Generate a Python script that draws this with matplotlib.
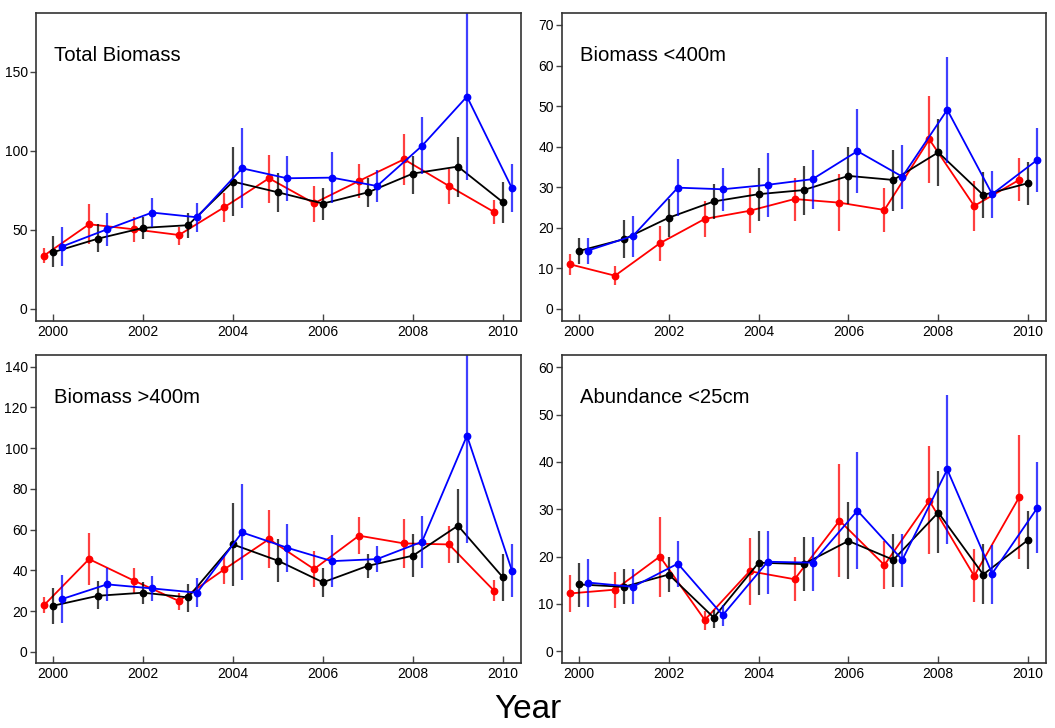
import numpy as np
import matplotlib
matplotlib.use("Agg")
import matplotlib.pyplot as plt

plt.rcParams['font.family'] = ['Liberation Sans', 'DejaVu Sans']

years = np.arange(2000, 2011)

# Total Biomass
tot_black = [35.9, 44.5, 51.3, 53.0, 80.6, 73.8, 66.7, 73.8, 85.7, 90.1, 67.5]
tot_black_lo = [26.8, 36.3, 44.1, 44.7, 59.0, 61.6, 56.3, 64.3, 72.6, 71.0, 54.6]
tot_black_hi = [46.2, 53.8, 58.4, 61.0, 102.3, 85.9, 76.8, 83.1, 96.8, 109.0, 80.2]
tot_red = [33.8, 53.6, 50.4, 46.8, 64.3, 82.7, 66.9, 81.0, 94.7, 77.8, 61.4]
tot_red_lo = [28.9, 41.1, 42.6, 40.5, 55.3, 67.3, 55.3, 70.0, 78.5, 66.5, 53.6]
tot_red_hi = [38.4, 66.2, 58.4, 52.1, 73.2, 97.5, 78.1, 91.8, 110.8, 88.4, 69.0]
tot_blue = [39.5, 50.4, 61.0, 58.0, 89.0, 82.7, 83.1, 77.8, 103.2, 134.4, 76.4]
tot_blue_lo = [27.4, 39.9, 51.7, 48.9, 63.7, 68.4, 66.9, 67.5, 85.4, 81.6, 61.2]
tot_blue_hi = [52.1, 61.0, 70.0, 67.3, 114.3, 96.8, 99.6, 88.0, 121.3, 195.0, 91.8]

# Biomass <400m
shal_black = [14.3, 17.2, 22.5, 26.5, 28.3, 29.3, 32.8, 31.8, 38.6, 28.1, 31.0]
shal_black_lo = [11.0, 12.5, 17.8, 22.2, 21.8, 23.2, 25.8, 24.2, 30.3, 22.3, 25.6]
shal_black_hi = [17.6, 21.9, 27.0, 30.7, 34.7, 35.3, 40.0, 39.2, 46.8, 33.7, 36.3]
shal_red = [11.0, 8.2, 16.2, 22.2, 24.2, 27.1, 26.2, 24.4, 41.8, 25.4, 31.8]
shal_red_lo = [8.4, 5.9, 11.8, 17.8, 18.7, 21.8, 19.1, 18.9, 31.1, 19.1, 26.5]
shal_red_hi = [13.6, 10.7, 20.5, 26.6, 29.7, 32.2, 33.3, 29.9, 52.5, 31.6, 37.1]
shal_blue = [14.4, 18.0, 29.9, 29.5, 30.6, 32.0, 38.9, 32.6, 49.1, 28.3, 36.7]
shal_blue_lo = [11.0, 12.7, 22.8, 24.2, 22.6, 24.6, 28.7, 24.6, 36.1, 22.5, 28.9]
shal_blue_hi = [17.6, 22.9, 36.9, 34.7, 38.4, 39.2, 49.3, 40.4, 62.0, 34.0, 44.5]

# Biomass >400m
deep_black = [22.6, 27.5, 29.0, 26.7, 52.7, 44.7, 34.1, 42.2, 47.2, 61.9, 36.5]
deep_black_lo = [13.4, 20.8, 23.4, 19.6, 32.3, 34.4, 26.7, 36.4, 36.8, 43.7, 24.9]
deep_black_hi = [31.4, 34.9, 34.4, 33.2, 72.9, 55.2, 41.3, 47.8, 57.8, 79.9, 48.0]
deep_red = [22.9, 45.5, 34.9, 24.9, 40.4, 55.3, 40.6, 57.0, 53.2, 52.7, 30.0]
deep_red_lo = [18.8, 32.7, 28.3, 20.5, 33.2, 40.9, 31.9, 47.8, 40.9, 43.7, 24.9]
deep_red_hi = [27.0, 58.1, 41.3, 29.1, 47.5, 69.6, 49.5, 66.0, 65.0, 61.9, 35.2]
deep_blue = [25.9, 33.1, 31.1, 29.0, 58.6, 51.1, 44.5, 45.5, 54.0, 106.1, 39.8]
deep_blue_lo = [13.9, 24.9, 24.9, 21.8, 35.2, 39.0, 31.6, 39.0, 40.9, 53.5, 27.0]
deep_blue_hi = [37.7, 41.3, 37.3, 36.4, 82.4, 62.7, 57.3, 52.1, 66.8, 160.0, 52.9]

# Abundance <25cm
abun_black = [14.1, 13.6, 16.2, 7.1, 18.7, 18.4, 23.3, 19.3, 29.3, 16.2, 23.5]
abun_black_lo = [9.4, 9.9, 12.4, 5.0, 11.8, 12.7, 15.2, 13.6, 20.7, 9.9, 17.3]
abun_black_hi = [18.7, 17.3, 20.0, 8.8, 25.5, 24.2, 31.5, 24.8, 38.1, 22.6, 29.6]
abun_red = [12.2, 13.0, 20.0, 6.6, 16.9, 15.2, 27.6, 18.2, 31.8, 15.9, 32.5]
abun_red_lo = [8.3, 9.2, 11.5, 4.4, 9.7, 10.6, 15.6, 13.1, 20.5, 10.3, 19.4]
abun_red_hi = [16.1, 16.8, 28.3, 8.5, 24.0, 19.8, 39.6, 23.3, 43.4, 21.5, 45.7]
abun_blue = [14.5, 13.6, 18.5, 7.6, 18.9, 18.7, 29.7, 19.3, 38.4, 16.4, 30.2]
abun_blue_lo = [9.4, 9.9, 13.6, 5.3, 12.0, 12.8, 17.3, 13.5, 22.6, 9.9, 20.7]
abun_blue_hi = [19.4, 17.3, 23.3, 9.7, 25.5, 24.2, 42.0, 24.8, 54.2, 22.4, 39.9]

panels = [
    ("Total Biomass", (-7.6, 187.3), [0, 50, 100, 150],
     [(tot_red, tot_red_lo, tot_red_hi, 'red', -0.2),
      (tot_black, tot_black_lo, tot_black_hi, 'black', 0.0),
      (tot_blue, tot_blue_lo, tot_blue_hi, 'blue', 0.2)]),
    ("Biomass <400m", (-2.96, 72.96), [0, 10, 20, 30, 40, 50, 60, 70],
     [(shal_red, shal_red_lo, shal_red_hi, 'red', -0.2),
      (shal_black, shal_black_lo, shal_black_hi, 'black', 0.0),
      (shal_blue, shal_blue_lo, shal_blue_hi, 'blue', 0.2)]),
    ("Biomass >400m", (-5.5, 145.7), [0, 20, 40, 60, 80, 100, 120, 140],
     [(deep_red, deep_red_lo, deep_red_hi, 'red', -0.2),
      (deep_black, deep_black_lo, deep_black_hi, 'black', 0.0),
      (deep_blue, deep_blue_lo, deep_blue_hi, 'blue', 0.2)]),
    ("Abundance <25cm", (-2.5, 62.6), [0, 10, 20, 30, 40, 50, 60],
     [(abun_red, abun_red_lo, abun_red_hi, 'red', -0.2),
      (abun_black, abun_black_lo, abun_black_hi, 'black', 0.0),
      (abun_blue, abun_blue_lo, abun_blue_hi, 'blue', 0.2)]),
]

fig = plt.figure(figsize=(10.55, 7.28), dpi=100)
positions = [
    [0.0341, 0.5591, 0.4597, 0.4231],
    [0.5327, 0.5591, 0.4588, 0.4231],
    [0.0341, 0.0893, 0.4597, 0.4231],
    [0.5327, 0.0893, 0.4588, 0.4231],
]

for pos, (title, ylim, yticks, series) in zip(positions, panels):
    ax = fig.add_axes(pos)
    for vals, lo, hi, col, off in series:
        x = years + off
        vals = np.array(vals)
        ax.vlines(x, lo, hi, color=col, lw=1.6, alpha=0.75)
        ax.plot(x, vals, '-', color=col, lw=1.3)
        ax.plot(x, vals, 'o', color=col, ms=4.6)
    ax.set_xlim(1999.62, 2010.4)
    ax.set_ylim(*ylim)
    ax.set_xticks([2000, 2002, 2004, 2006, 2008, 2010])
    ax.set_yticks(yticks)
    ax.tick_params(axis='x', direction='in', length=5, width=1, color='#444444',
                   labelsize=10, pad=3)
    ax.tick_params(axis='y', direction='out', length=4, width=1, color='#444444',
                   labelsize=10, pad=2)
    for s in ax.spines.values():
        s.set_color('#333333')
        s.set_linewidth(1.2)
    ax.text(0.037, 0.844, title, transform=ax.transAxes, fontsize=14.6,
            ha='left', va='baseline')

fig.text(0.5, 0.004, "Year", fontsize=24, ha='center', va='bottom')

fig.savefig("out.png", dpi=100)
